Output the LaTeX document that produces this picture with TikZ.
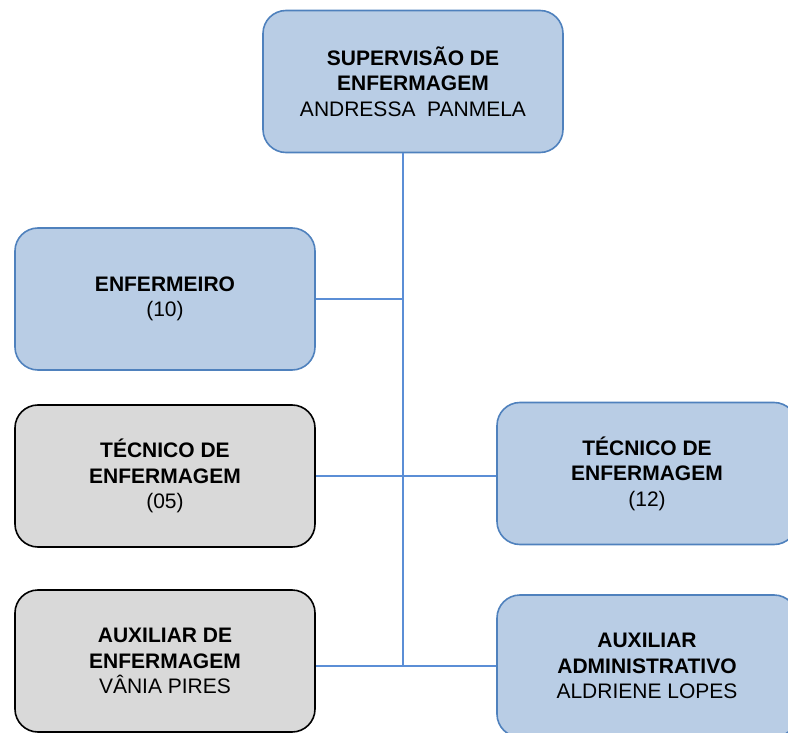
\documentclass[tikz,border=0pt]{standalone}
\usepackage{fontspec}
\setmainfont{Liberation Sans}
\definecolor{boxblue}{HTML}{B9CDE5}
\definecolor{edgeblue}{HTML}{4F81BD}
\definecolor{lineblue}{HTML}{5B8ED6}
\definecolor{boxgray}{HTML}{D9D9D9}
\begin{document}
\begin{tikzpicture}[x=1pt,y=1pt,
  orgbox/.style={rounded corners=23pt, line width=1.6pt, minimum width=300pt,
    minimum height=142pt, inner sep=0pt, align=center,
    font=\fontsize{21}{25.5}\selectfont},
  bluebox/.style={orgbox, fill=boxblue, draw=edgeblue},
  graybox/.style={orgbox, fill=boxgray, draw=black},
  conn/.style={draw=lineblue, line width=1.6pt}]
\useasboundingbox (0,0) rectangle (788,-733);
\begin{scope}
\clip (0,0) rectangle (788,-733);
\node[bluebox] (sup) at (413,-81.5) {\textbf{SUPERVISÃO DE}\\\textbf{ENFERMAGEM}\\ANDRESSA\ \ PANMELA};
\node[bluebox] (enf) at (165,-299) {\textbf{ENFERMEIRO}\\(10)};
\node[graybox] (tecL) at (165,-476) {\textbf{TÉCNICO DE}\\\textbf{ENFERMAGEM}\\(05)};
\node[bluebox] (tecR) at (647,-473.5) {\textbf{TÉCNICO DE}\\\textbf{ENFERMAGEM}\\(12)};
\node[graybox] (auxL) at (165,-661) {\textbf{AUXILIAR DE}\\\textbf{ENFERMAGEM}\\VÂNIA PIRES};
\node[bluebox] (auxR) at (647,-666) {\textbf{AUXILIAR}\\\textbf{ADMINISTRATIVO}\\ALDRIENE LOPES};
\coordinate (spineTop) at ([xshift=-10pt]sup.south);
\coordinate (spineEnd) at (spineTop |- auxR.west);
\draw[conn] (spineTop) -- (spineEnd);
\draw[conn] (enf.east) -- (enf.east -| spineTop);
\draw[conn] (tecL.east) -- (tecL.east -| tecR.west);
\draw[conn] (auxR.west) -- (auxR.west -| auxL.east);
\end{scope}
\end{tikzpicture}
\end{document}
